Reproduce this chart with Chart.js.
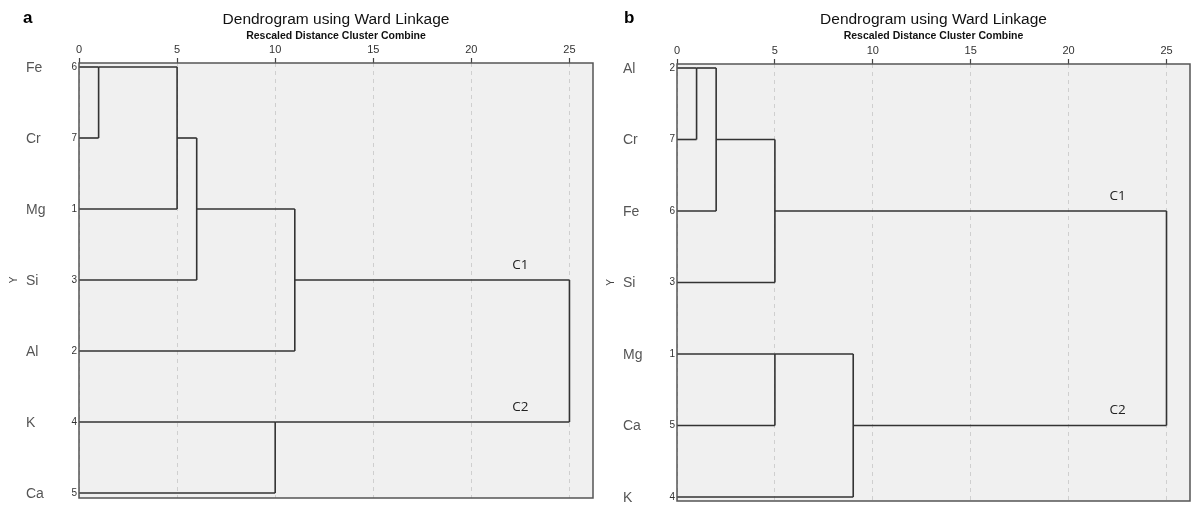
<!DOCTYPE html>
<html>
<head>
<meta charset="utf-8">
<script src="https://cdn.jsdelivr.net/npm/chart.js@4/dist/chart.umd.min.js"></script>
<style>
  body { margin: 0; background: #fff; }
  #wrap { position: relative; width: 1191px; height: 506px; overflow: hidden; }
  .pane { position: absolute; top: 0; height: 506px; }
</style>
</head>
<body>
<div id="wrap">
  <div class="pane" style="left:0;width:598px"><canvas id="dendroA"></canvas></div>
  <div class="pane" style="left:597px;width:594px"><canvas id="dendroB"></canvas></div>
</div>
<script>
// dados -----------------------------------------------------------------------
const labelsA = ['Fe', 'Cr', 'Mg', 'Si', 'Al', 'K', 'Ca'];
const casesA = [6, 7, 1, 3, 2, 4, 5];
// [filho1, filho2, distancia] (indices > 6 = cluster criado na fusao n-7)
const mergesA = [[0, 1, 1.0], [7, 2, 5.0], [8, 3, 6.0], [9, 4, 11.0], [5, 6, 10.0], [10, 11, 25.0]];

const labelsB = ['Al', 'Cr', 'Fe', 'Si', 'Mg', 'Ca', 'K'];
const casesB = [2, 7, 6, 3, 1, 5, 4];
const mergesB = [[0, 1, 1.0], [7, 2, 2.0], [8, 3, 5.0], [4, 5, 5.0], [10, 6, 9.0], [9, 11, 25.0]];

const xTicks = [0, 5, 10, 15, 20, 25];
const clusterNames = ['C1', 'C2'];
//------------------------------------------------------------------------------

const LINE = '#333';

// monta os segmentos do dendrograma (estilo SPSS: no fica na linha floor do meio)
function montarSegmentos(labels, merges) {
  const n = labels.length;
  const posY = [], posX = [];
  for (let i = 0; i < n; i++) { posY[i] = i + 1; posX[i] = 0; }
  const segs = [];
  merges.forEach((m, k) => {
    const [a, b, d] = m;
    segs.push([{x: posX[a], y: posY[a]}, {x: d, y: posY[a]}]);
    segs.push([{x: posX[b], y: posY[b]}, {x: d, y: posY[b]}]);
    segs.push([{x: d, y: posY[a]}, {x: d, y: posY[b]}]);
    posY[n + k] = Math.floor((posY[a] + posY[b]) / 2);
    posX[n + k] = d;
  });
  return { segs, posY };
}

function criarDendro(id, cfg) {
  const { segs, posY } = montarSegmentos(cfg.labels, cfg.merges);
  const datasets = segs.map(s => ({
    data: s, showLine: true, pointRadius: 0, borderColor: LINE, borderWidth: 1.6
  }));
  const n = cfg.labels.length;
  const last = cfg.merges.length - 1;
  const c1Row = posY[cfg.merges[last][0]];
  const c2Row = posY[cfg.merges[last][1]];

  const textos = {
    id: 'textos',
    beforeDraw(chart) {
      const { ctx, chartArea: ca } = chart;
      ctx.save();
      ctx.fillStyle = '#f0f0f0';
      ctx.fillRect(ca.left, ca.top, ca.right - ca.left, ca.bottom - ca.top);
      ctx.restore();
    },
    afterDraw(chart) {
      const { ctx, chartArea: ca, scales } = chart;
      const sx = scales.x, sy = scales.y;
      ctx.save();
      ctx.strokeStyle = '#555';
      ctx.lineWidth = 1.5;
      ctx.strokeRect(ca.left, ca.top, ca.right - ca.left, ca.bottom - ca.top);

      const cx = (ca.left + ca.right) / 2;
      ctx.fillStyle = '#000';
      ctx.font = 'bold 17px "Liberation Sans", Arial, sans-serif';
      ctx.textAlign = 'left';
      ctx.textBaseline = 'middle';
      ctx.fillText(cfg.letra, cfg.letraX, 18);

      ctx.fillStyle = '#111';
      ctx.textAlign = 'center';
      ctx.font = '15.5px "Liberation Sans", Arial, sans-serif';
      ctx.fillText('Dendrogram using Ward Linkage', cx, 20);
      ctx.font = 'bold 10.5px "Liberation Sans", Arial, sans-serif';
      ctx.fillText('Rescaled Distance Cluster Combine', cx, 36);

      for (let i = 0; i < n; i++) {
        const y = sy.getPixelForValue(i + 1);
        ctx.fillStyle = '#555';
        ctx.textAlign = 'left';
        ctx.font = '14px "Liberation Sans", Arial, sans-serif';
        ctx.fillText(cfg.labels[i], cfg.nomeX, y + 1);
        ctx.fillStyle = '#333';
        ctx.textAlign = 'right';
        ctx.font = '10px "Liberation Sans Narrow", "Liberation Sans", sans-serif';
        ctx.fillText(String(cfg.cases[i]), ca.left - 2, y);
      }

      // rotulo do eixo Y (rodado)
      ctx.save();
      ctx.translate(cfg.yMarkX, sy.getPixelForValue(4));
      ctx.rotate(-Math.PI / 2);
      ctx.fillStyle = '#444';
      ctx.textAlign = 'center';
      ctx.font = '10px "Liberation Sans", Arial, sans-serif';
      ctx.fillText('Y', 0, 0);
      ctx.restore();

      ctx.fillStyle = '#222';
      ctx.textAlign = 'center';
      ctx.font = '13.5px "Open Sans", "Liberation Sans", sans-serif';
      ctx.fillText(clusterNames[0], sx.getPixelForValue(22.5), sy.getPixelForValue(c1Row) - 15);
      ctx.fillText(clusterNames[1], sx.getPixelForValue(22.5), sy.getPixelForValue(c2Row) - 15);
      ctx.restore();
    }
  };

  return new Chart(document.getElementById(id), {
    type: 'scatter',
    data: { datasets },
    options: {
      responsive: true,
      maintainAspectRatio: false,
      animation: false,
      events: [],
      layout: { padding: cfg.padding },
      plugins: { legend: { display: false }, tooltip: { enabled: false } },
      scales: {
        x: {
          type: 'linear',
          position: 'top',
          min: 0,
          max: 26.2,
          afterBuildTicks: s => { s.ticks = xTicks.map(v => ({ value: v })); },
          afterFit: s => { s.height = 20; },
          grid: { color: '#cfcfcf', lineWidth: 1, tickColor: '#444', tickLength: 5, tickWidth: 1.2, tickBorderDash: [] },
          border: { display: false, dash: [4, 4] },
          ticks: {
            padding: 1,
            color: '#333',
            font: { family: '"Liberation Sans Narrow", "Liberation Sans", sans-serif', size: 11 }
          }
        },
        y: {
          type: 'linear',
          display: false,
          reverse: true,
          min: cfg.yMin,
          max: cfg.yMax
        }
      }
    },
    plugins: [textos]
  });
}

criarDendro('dendroA', {
  labels: labelsA, cases: casesA, merges: mergesA,
  letra: 'a', letraX: 23, nomeX: 26, yMarkX: 14,
  padding: { left: 79, right: 5, top: 43, bottom: 8 },
  yMin: 1 - 4 / 71, yMax: 7 + 5 / 71
});

criarDendro('dendroB', {
  labels: labelsB, cases: casesB, merges: mergesB,
  letra: 'b', letraX: 27, nomeX: 26, yMarkX: 14,
  padding: { left: 80, right: 1, top: 44, bottom: 5 },
  yMin: 1 - 4 / 71.5, yMax: 7 + 4 / 71.5
});
</script>
</body>
</html>
